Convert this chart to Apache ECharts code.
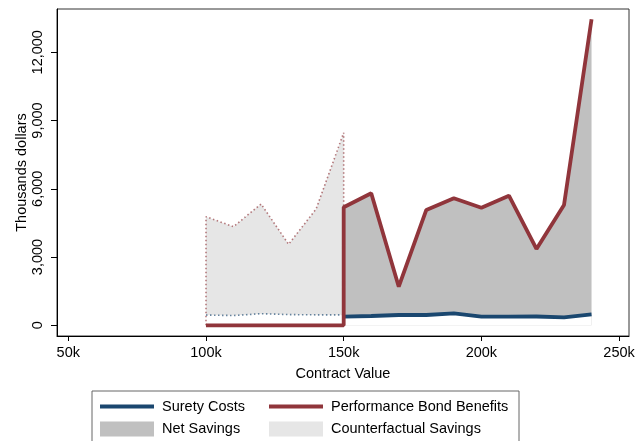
<!DOCTYPE html>
<html><head><meta charset="utf-8">
<script src="https://cdn.jsdelivr.net/npm/echarts@6/dist/echarts.min.js"></script>
<style>html,body{margin:0;padding:0;background:#fff}#c{width:638px;height:441px}</style>
</head><body><div id="c"></div>
<script>
// Contract value (thousands)
const cfX = [100, 110, 120, 130, 140, 150];
const cfBenefits = [4774, 4334, 5332, 3560, 5112, 8466];
const cfSurety = [450, 430, 510, 470, 460, 460];
const actX = [150, 160, 170, 180, 190, 200, 210, 220, 230, 240];
const actBenefits = [5187, 5802, 1697, 5068, 5582, 5169, 5697, 3354, 5288, 13450];
const actSurety = [378, 409, 453, 453, 527, 378, 378, 387, 352, 483];
const zeroX = [100, 150];
const zeroY = [0, 0];
const xTicks = [50, 100, 150, 200, 250];
const yTicks = [0, 3000, 6000, 9000, 12000];

const BLUE = '#1a476f', RED = '#90353b', NET = '#c0c0c0', CF = '#e6e6e6';
const pair = (xs, ys) => xs.map((x, i) => [x, ys[i]]);
const FONT = 'Liberation Sans';
const FS = 14.5;

const chart = echarts.init(document.getElementById('c'));
const legendBase = { top: 399, orient: 'vertical', padding: 0, itemWidth: 54, itemHeight: 15, itemGap: 7.6,
  textStyle: { fontSize: FS, fontFamily: FONT, color: '#000', padding: [0, 0, 0, 3] } };
chart.setOption({
  animation: false,
  textStyle: { fontFamily: FONT, color: '#000' },
  grid: { left: 57, right: 9, top: 9, bottom: 105, show: true, borderColor: '#333', borderWidth: 1, backgroundColor: '#fff' },
  xAxis: {
    type: 'value', min: 45.9, max: 253.6,
    name: 'Contract Value', nameLocation: 'middle', nameGap: 30, nameMoveOverlap: false,
    nameTextStyle: { fontSize: FS, fontFamily: FONT, color: '#000' },
    axisLine: { onZero: false, lineStyle: { color: '#000', width: 1 } },
    axisTick: { show: true, length: 5, customValues: xTicks, lineStyle: { color: '#000' } },
    axisLabel: { customValues: xTicks, fontSize: FS, color: '#000', margin: 9, formatter: v => v + 'k' },
    splitLine: { show: false }
  },
  yAxis: {
    type: 'value', min: -470, max: 13900,
    name: 'Thousands dollars', nameLocation: 'middle', nameGap: 28, nameRotate: 90, nameMoveOverlap: false,
    nameTextStyle: { fontSize: FS, fontFamily: FONT, color: '#000' },
    axisLine: { show: true, onZero: false, lineStyle: { color: '#000', width: 1 } },
    axisTick: { show: true, length: 6, customValues: yTicks, lineStyle: { color: '#000' } },
    axisLabel: { customValues: yTicks, rotate: 90, fontSize: FS, color: '#000', margin: 12,
      formatter: v => v.toLocaleString('en-US') },
    splitLine: { show: false }
  },
  legend: [
    Object.assign({}, legendBase, { left: 98,
      data: [{ name: 'Surety Costs', itemStyle: { opacity: 0 }, lineStyle: { width: 4 } }, { name: 'Net Savings', icon: 'rect' }] }),
    Object.assign({}, legendBase, { left: 267,
      data: [{ name: 'Performance Bond Benefits', itemStyle: { opacity: 0 }, lineStyle: { width: 4 } }, { name: 'Counterfactual Savings', icon: 'rect' }] })
  ],
  graphic: [{ type: 'rect', shape: { x: 92, y: 391, width: 427, height: 60 }, style: { fill: 'none', stroke: '#666', lineWidth: 1 }, z: 100 }],
  series: [
    { name: 'Counterfactual Savings', type: 'line', data: pair(cfX, cfBenefits), symbol: 'none', z: 1,
      itemStyle: { color: CF }, lineStyle: { width: 0, opacity: 0 }, areaStyle: { color: CF, opacity: 1 } },
    { name: 'Net Savings', type: 'line', data: pair(actX, actBenefits), symbol: 'none', z: 1,
      itemStyle: { color: NET }, lineStyle: { width: 0, opacity: 0 }, areaStyle: { color: NET, opacity: 1 } },
    { name: 'mask1', type: 'line', data: pair(cfX, cfSurety), symbol: 'none', z: 2,
      lineStyle: { width: 0, opacity: 0 }, areaStyle: { color: '#fff', opacity: 1 } },
    { name: 'mask2', type: 'line', data: pair(actX, actSurety), symbol: 'none', z: 2,
      lineStyle: { width: 0, opacity: 0 }, areaStyle: { color: '#fff', opacity: 1 } },
    { name: 'cfBenefitLine', type: 'line', symbol: 'none', z: 3,
      data: [[cfX[0], 0]].concat(pair(cfX, cfBenefits), [[actX[0], actBenefits[0]]]),
      lineStyle: { color: RED, width: 1.6, type: [1.5, 2.5], opacity: 0.65 } },
    { name: 'cfSuretyLine', type: 'line', symbol: 'none', z: 3, data: pair(cfX, cfSurety),
      lineStyle: { color: BLUE, width: 1.6, type: [1.5, 2.5], opacity: 0.65 } },
    { name: 'Surety Costs', type: 'line', symbol: 'none', z: 4, data: pair(actX, actSurety),
      itemStyle: { color: BLUE }, lineStyle: { color: BLUE, width: 3.8 } },
    { name: 'Performance Bond Benefits', type: 'line', symbol: 'none', z: 5,
      data: pair(zeroX, zeroY).concat(pair(actX, actBenefits)),
      itemStyle: { color: RED }, lineStyle: { color: RED, width: 3.8 } }
  ]
});
</script></body></html>
